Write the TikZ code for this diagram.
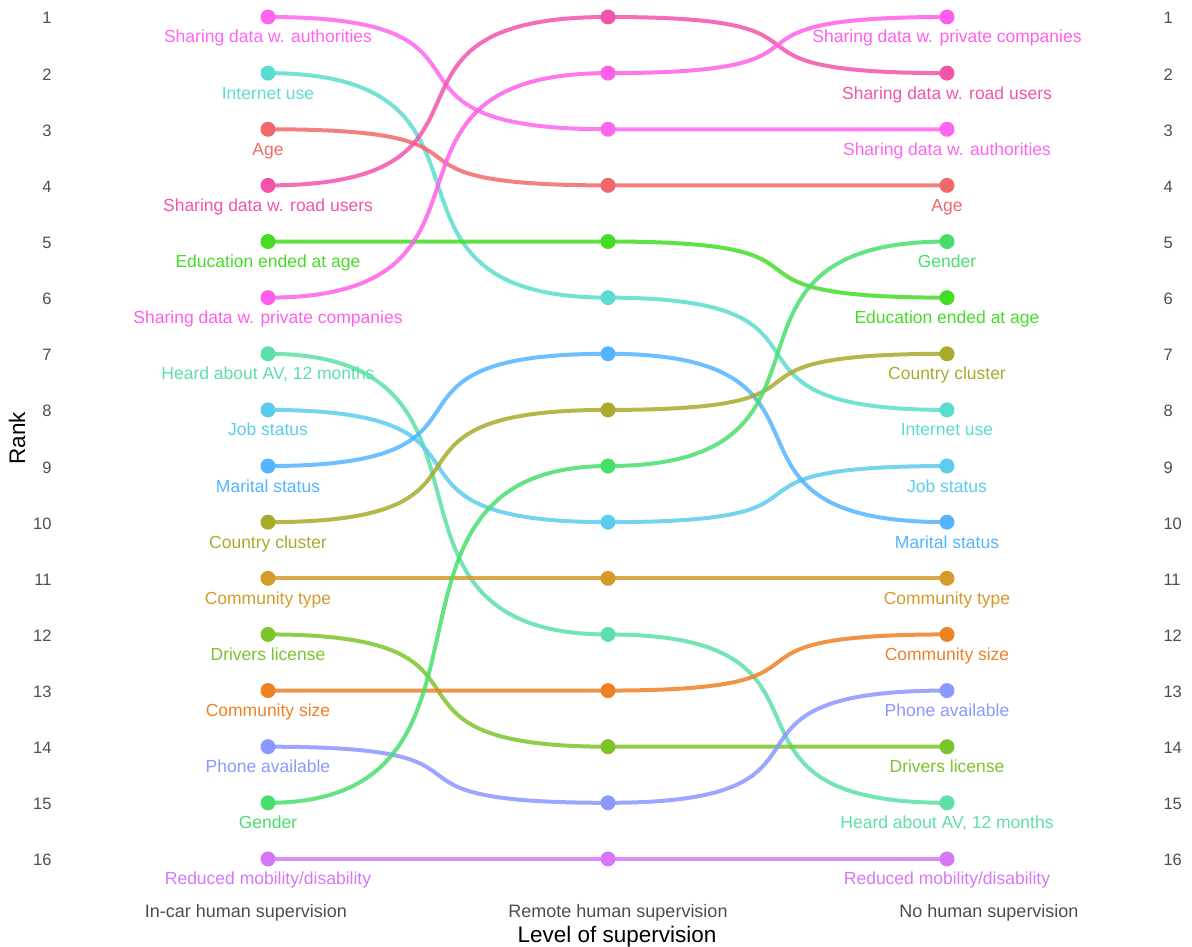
\documentclass[tikz,border=0pt]{standalone}
\usepackage{fontspec}
\setmainfont{Liberation Sans}
\usetikzlibrary{backgrounds}
\definecolor{auth}{HTML}{FF64F0}
\definecolor{priv}{HTML}{FF5EEA}
\definecolor{road}{HTML}{F254AA}
\definecolor{age}{HTML}{F26868}
\definecolor{inet}{HTML}{5CDCCE}
\definecolor{edu}{HTML}{44DC24}
\definecolor{heard}{HTML}{5CDFA8}
\definecolor{job}{HTML}{5CCCEC}
\definecolor{marital}{HTML}{55B4FF}
\definecolor{country}{HTML}{A9AA2C}
\definecolor{ctype}{HTML}{D49A2A}
\definecolor{drivers}{HTML}{7CC42C}
\definecolor{csize}{HTML}{EE8026}
\definecolor{phone}{HTML}{8A98FF}
\definecolor{gender}{HTML}{48DE6C}
\definecolor{mobility}{HTML}{D677F8}
\definecolor{axisgray}{HTML}{4D4D4D}
\begin{document}
\begin{tikzpicture}
  [x = 1pt, y = -1pt,
   dot/.style = {circle, fill = #1, inner sep = 0pt, minimum size = 15pt},
   bump/.style = {draw = #1, line width = 4pt, opacity = .85},
   lab/.style = {text = #1, anchor = base, font = \fontsize{17.5}{20}\selectfont},
   tick/.style = {text = axisgray, font = \fontsize{16.5}{18}\selectfont},
   levtext/.style = {text = axisgray, anchor = base, font = \fontsize{18}{20}\selectfont},
   axtitle/.style = {font = \fontsize{22.5}{26}\selectfont}]
  \useasboundingbox (0,0) rectangle (1192,947);
  \foreach \v/\a/\b/\c/\txt in {
    auth/1/3/3/{Sharing data w. authorities},
    inet/2/6/8/{Internet use},
    age/3/4/4/{Age},
    road/4/1/2/{Sharing data w. road users},
    edu/5/5/6/{Education ended at age},
    priv/6/2/1/{Sharing data w. private companies},
    heard/7/12/15/{Heard about AV, 12 months},
    job/8/10/9/{Job status},
    marital/9/7/10/{Marital status},
    country/10/8/7/{Country cluster},
    ctype/11/11/11/{Community type},
    drivers/12/14/14/{Drivers license},
    csize/13/13/12/{Community size},
    phone/14/15/13/{Phone available},
    gender/15/9/5/{Gender},
    mobility/16/16/16/{Reduced mobility/disability}}
  {
    \node[dot = \v] (\v-a) at (268, {17 + 56.13*(\a-1)}) {};
    \node[dot = \v] (\v-b) at (608, {17 + 56.13*(\b-1)}) {};
    \node[dot = \v] (\v-c) at (947, {17 + 56.13*(\c-1)}) {};
    \node[lab = \v] (\v-la) at (268, {43 + 56.13*(\a-1)}) {\txt};
    \node[lab = \v] (\v-lc) at (947, {43 + 56.13*(\c-1)}) {\txt};
    \begin{pgfonlayer}{background}
      \draw[bump = \v] (\v-a.center) .. controls +(265,0) and +(-265,0) .. (\v-b.center)
        .. controls +(265,0) and +(-265,0) .. (\v-c.center);
    \end{pgfonlayer}
  }
  \foreach \r in {1,...,16}
  {
    \node[tick, anchor = base east] (rl\r) at (55, {24 + 56.13*(\r-1)}) {\r};
    \node[tick, anchor = base west] (rr\r) at (1160, {24 + 56.13*(\r-1)}) {\r};
  }
  \node[levtext] (incar) at (246, 917) {In-car human supervision};
  \node[levtext] (remote) at (618, 917) {Remote human supervision};
  \node[levtext] (nohuman) at (989, 917) {No human supervision};
  \node[axtitle, anchor = base] (xtitle) at (617, 942) {Level of supervision};
  \node[axtitle, anchor = base, rotate = 90] (ytitle) at (25, 438) {Rank};
\end{tikzpicture}
\end{document}
